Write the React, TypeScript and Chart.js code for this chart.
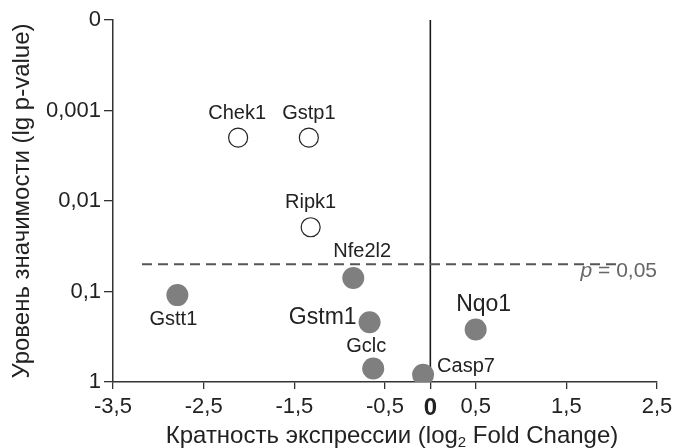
import React, { useEffect, useRef } from 'react';
import { Chart, registerables } from 'chart.js';

Chart.register(...registerables);

const FONT = "'Liberation Sans', Arial, sans-serif";

// ---- data ----
const openGenes = ['Chek1', 'Gstp1', 'Ripk1'];
const openLog2FC = [-2.12, -1.34, -1.32];
const openNegLogP = [2.7, 2.7, 1.71];

const filledGenes = ['Gstt1', 'Nfe2l2', 'Gstm1', 'Gclc', 'Casp7', 'Nqo1'];
const filledLog2FC = [-2.79, -0.85, -0.67, -0.63, -0.08, 0.5];
const filledNegLogP = [0.96, 1.15, 0.66, 0.15, 0.08, 0.58];

const thresholdNegLogP = 1.301; // p = 0,05
const thresholdXRange = [-3.18, 2.09];
const thresholdLabel = ' = 0,05';

const xTickValues = [-3.5, -2.5, -1.5, -0.5, 0, 0.5, 1.5, 2.5];
const xTickLabels = ['-3,5', '-2,5', '-1,5', '-0,5', '0', '0,5', '1,5', '2,5'];
const yTickValues = [0, 1, 2, 3, 4];
const yTickLabels = ['1', '0,1', '0,01', '0,001', '0'];

const yTitle = 'Уровень значимости (lg p-value)';
const xTitleParts = ['Кратность экспрессии (log', '2', ' Fold Change)'];

// ---- label styles (offsets in px from point centre) ----
const labelStyle: Record<string, { dx: number; dy: number; size: number; align: CanvasTextAlign }> = {
  Chek1: { dx: -1, dy: -19, size: 20, align: 'center' },
  Gstp1: { dx: 0, dy: -19, size: 20, align: 'center' },
  Ripk1: { dx: 0, dy: -19, size: 20, align: 'center' },
  Nfe2l2: { dx: 9, dy: -21, size: 20, align: 'center' },
  Gstt1: { dx: -4, dy: 30, size: 20, align: 'center' },
  Gstm1: { dx: -13, dy: 2, size: 23, align: 'right' },
  Gclc: { dx: -7, dy: -16, size: 20, align: 'center' },
  Casp7: { dx: 14, dy: -3, size: 20, align: 'left' },
  Nqo1: { dx: 8, dy: -19, size: 23, align: 'center' },
};

export default function App() {
  const ref = useRef<HTMLCanvasElement>(null);

  useEffect(() => {
    const canvas = ref.current!;

    const labelPlugin = {
      id: 'pointLabels',
      afterDatasetsDraw(chart: any) {
        const ctx = chart.ctx;
        chart.data.datasets.forEach((ds: any, i: number) => {
          const names: string[] | undefined = ds.geneNames;
          if (!names) return;
          const meta = chart.getDatasetMeta(i);
          meta.data.forEach((el: any, j: number) => {
            const st = labelStyle[names[j]];
            ctx.save();
            ctx.font = `${st.size}px ${FONT}`;
            ctx.fillStyle = '#222';
            ctx.textAlign = st.align;
            ctx.textBaseline = 'alphabetic';
            ctx.fillText(names[j], el.x + st.dx, el.y + st.dy);
            ctx.restore();
          });
        });
      },
    };

    const extrasPlugin = {
      id: 'extras',
      afterDraw(chart: any) {
        const ctx = chart.ctx;
        const area = chart.chartArea;
        const ys = chart.scales.y;
        // p = 0,05 label
        ctx.save();
        ctx.fillStyle = '#666';
        ctx.textBaseline = 'alphabetic';
        ctx.textAlign = 'left';
        const yp = ys.getPixelForValue(thresholdNegLogP) + 13;
        ctx.font = `21px ${FONT}`;
        const w2 = ctx.measureText(thresholdLabel).width;
        ctx.font = `italic 21px ${FONT}`;
        const w1 = ctx.measureText('p').width;
        const x0 = area.right - w1 - w2;
        ctx.fillText('p', x0, yp);
        ctx.font = `21px ${FONT}`;
        ctx.fillText(thresholdLabel, x0 + w1, yp);
        ctx.restore();

        // x title with subscript
        ctx.save();
        ctx.fillStyle = '#222';
        ctx.textBaseline = 'alphabetic';
        ctx.textAlign = 'left';
        const big = `24px ${FONT}`;
        const small = `15px ${FONT}`;
        ctx.font = big;
        const a = ctx.measureText(xTitleParts[0]).width;
        const c = ctx.measureText(xTitleParts[2]).width;
        ctx.font = small;
        const b = ctx.measureText(xTitleParts[1]).width;
        const total = a + b + c;
        const cx = (area.left + area.right) / 2 + 7;
        const by = 443;
        let x = cx - total / 2;
        ctx.font = big;
        ctx.fillText(xTitleParts[0], x, by);
        x += a;
        ctx.font = small;
        ctx.fillText(xTitleParts[1], x, by + 4);
        x += b;
        ctx.font = big;
        ctx.fillText(xTitleParts[2], x, by);
        ctx.restore();
      },
    };

    const chart = new Chart(canvas, {
      type: 'scatter',
      data: {
        datasets: [
          {
            label: 'zero',
            data: [
              { x: 0, y: yTickValues[0] },
              { x: 0, y: yTickValues[yTickValues.length - 1] },
            ],
            showLine: true,
            borderColor: '#1a1a1a',
            borderWidth: 1.6,
            pointRadius: 0,
            order: 5,
          },
          {
            label: 'threshold',
            data: [
              { x: thresholdXRange[0], y: thresholdNegLogP },
              { x: thresholdXRange[1], y: thresholdNegLogP },
            ],
            showLine: true,
            borderColor: '#555',
            borderWidth: 2,
            borderDash: [10, 6],
            pointRadius: 0,
            order: 4,
          },
          {
            label: 'open',
            geneNames: openGenes,
            data: openLog2FC.map((v, i) => ({ x: v, y: openNegLogP[i] })),
            pointRadius: 9.5,
            pointBackgroundColor: '#fff',
            pointBorderColor: '#222',
            pointBorderWidth: 1.2,
            order: 1,
          } as any,
          {
            label: 'filled',
            geneNames: filledGenes,
            data: filledLog2FC.map((v, i) => ({ x: v, y: filledNegLogP[i] })),
            pointRadius: 11,
            pointBackgroundColor: '#7f7f7f',
            pointBorderColor: '#7f7f7f',
            pointBorderWidth: 0,
            order: 0,
          } as any,
        ],
      },
      options: {
        responsive: false,
        animation: false,
        events: [],
        layout: { padding: { top: 20, right: 16, left: 0, bottom: 0 } },
        plugins: { legend: { display: false }, tooltip: { enabled: false } },
        scales: {
          x: {
            type: 'linear',
            min: xTickValues[0],
            max: xTickValues[xTickValues.length - 1],
            afterBuildTicks: (scale: any) => {
              scale.ticks = xTickValues.map((v) => ({ value: v }));
            },
            afterFit: (scale: any) => {
              scale.height = 66;
              scale.paddingLeft = 0;
              scale.paddingRight = 0;
            },
            grid: { drawOnChartArea: false, drawTicks: true, tickLength: 7, color: '#333', lineWidth: 1.3 },
            border: { display: true, color: '#333', width: 1.5 },
            ticks: {
              padding: 5,
              color: '#222',
              autoSkip: false,
              maxRotation: 0,
              font: (ctx: any) =>
                ctx.tick && ctx.tick.value === 0
                  ? { family: FONT, size: 24, weight: 'bold' }
                  : { family: FONT, size: 22 },
              callback: (v: any) => {
                const i = xTickValues.indexOf(Number(v));
                return i >= 0 ? xTickLabels[i] : '';
              },
            },
          },
          y: {
            type: 'linear',
            min: yTickValues[0],
            max: yTickValues[yTickValues.length - 1],
            afterBuildTicks: (scale: any) => {
              scale.ticks = yTickValues.map((v) => ({ value: v }));
            },
            afterFit: (scale: any) => {
              scale.width = 113;
              scale.paddingTop = 0;
              scale.paddingBottom = 0;
            },
            grid: { drawOnChartArea: false, drawTicks: true, tickLength: 9, color: '#333', lineWidth: 1.3 },
            border: { display: true, color: '#333', width: 1.5 },
            ticks: {
              padding: 3,
              color: '#222',
              font: { family: FONT, size: 22 },
              callback: (v: any) => {
                const i = yTickValues.indexOf(Number(v));
                return i >= 0 ? yTickLabels[i] : '';
              },
            },
            title: {
              display: true,
              text: yTitle,
              color: '#222',
              font: { family: FONT, size: 24 },
              padding: { top: 8, bottom: 0 },
            },
          },
        },
      },
      plugins: [labelPlugin, extrasPlugin],
    } as any);

    return () => chart.destroy();
  }, []);

  return (
    <div style={{ position: 'fixed', left: 0, top: 0, width: 673, height: 448, background: '#fff' }}>
      <canvas ref={ref} width={673} height={448} />
    </div>
  );
}
